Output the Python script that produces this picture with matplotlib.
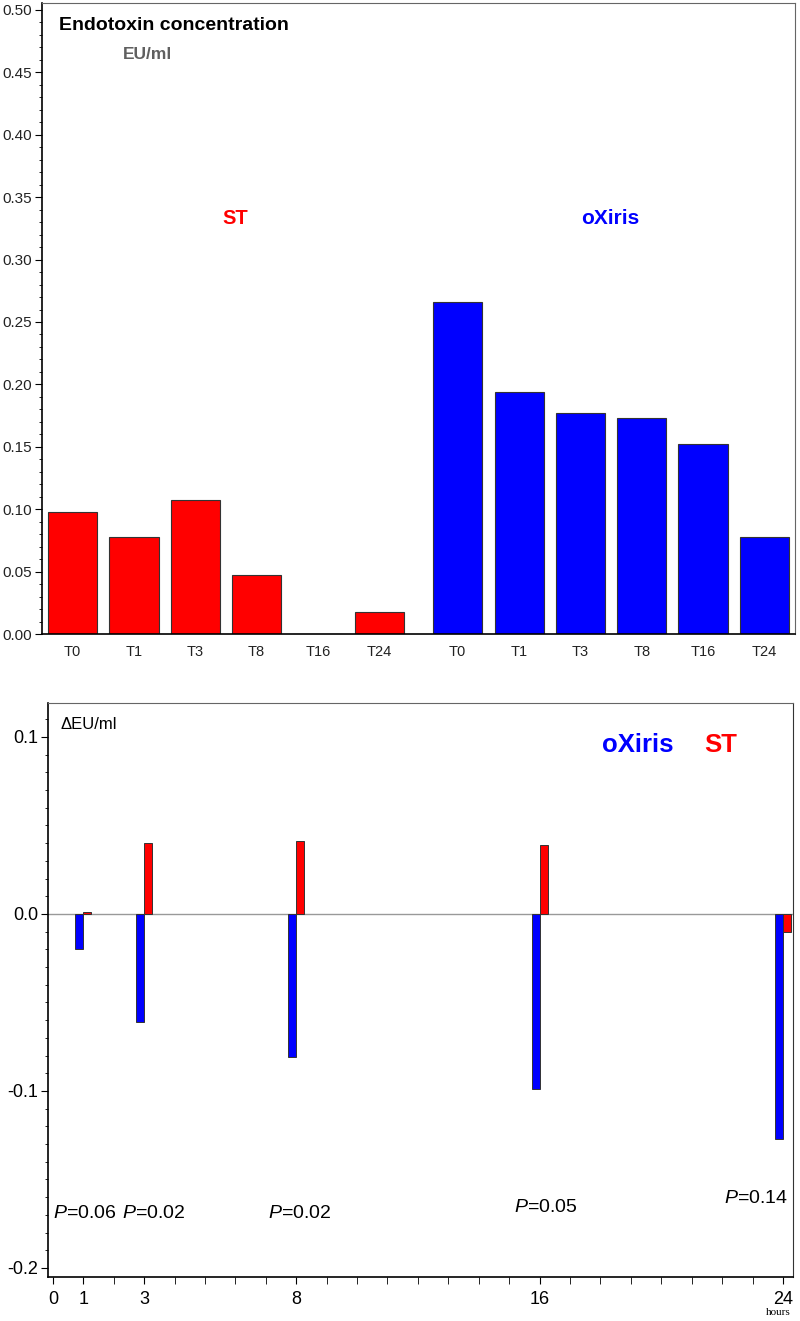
import numpy as np
import matplotlib
matplotlib.use("Agg")
import matplotlib.pyplot as plt
from matplotlib.ticker import MultipleLocator, FixedLocator

plt.rcParams['font.family'] = ['Liberation Sans', 'DejaVu Sans']
plt.rcParams['mathtext.fontset'] = 'custom'
plt.rcParams['mathtext.it'] = 'Liberation Sans:italic'
plt.rcParams['mathtext.rm'] = 'Liberation Sans'

# top panel: endotoxin concentration (EU/ml)
times = ["T0", "T1", "T3", "T8", "T16", "T24"]
st_conc = [0.098, 0.078, 0.107, 0.047, 0.0, 0.018]
oxiris_conc = [0.266, 0.194, 0.177, 0.173, 0.152, 0.078]

# bottom panel: change from baseline (delta EU/ml) per hour
hours = [1, 3, 8, 16, 24]
oxiris_delta = [-0.020, -0.061, -0.081, -0.099, -0.127]
st_delta = [0.001, 0.040, 0.041, 0.039, -0.010]
p_labels = ["0.06", "0.02", "0.02", "0.05", "0.14"]
p_xpos = [1.05, 3.3, 8.1, 16.2, 23.1]
p_ypos = [-0.169, -0.169, -0.169, -0.166, -0.161]
hour_ticks = [0, 1, 3, 8, 16, 24]

red = "#ff0000"
blue = "#0000ff"
edge = "#333333"

fig = plt.figure(figsize=(8, 13.21), dpi=100)

# ---- top chart
ax1 = fig.add_axes([42/800, 1-634/1321, 753/800, 631/1321])
gap = 0.28
x_st = np.arange(len(times))
x_ox = np.arange(len(times)) + len(times) + gap
ax1.bar(x_st, st_conc, width=0.8, color=red, edgecolor=edge, linewidth=0.8)
ax1.bar(x_ox, oxiris_conc, width=0.8, color=blue, edgecolor=edge, linewidth=0.8)
ax1.set_xlim(-0.5, x_ox[-1] + 0.5)
ax1.set_ylim(0, 0.5056)
ax1.set_xticks(np.concatenate([x_st, x_ox]))
ax1.set_xticklabels(times + times, fontsize=10.5, color="#222222")
ax1.tick_params(axis='x', length=0, pad=8)
ax1.yaxis.set_major_locator(MultipleLocator(0.05))
ax1.yaxis.set_minor_locator(MultipleLocator(0.01))
ax1.yaxis.set_major_formatter(matplotlib.ticker.FormatStrFormatter("%.2f"))
ax1.tick_params(axis='y', which='major', length=5, labelsize=11, labelcolor="#222222", pad=2)
ax1.tick_params(axis='y', which='minor', length=2.5)
for s in ['top', 'right']:
    ax1.spines[s].set_color('#666666')
ax1.spines['left'].set_linewidth(1.2)
ax1.spines['bottom'].set_linewidth(1.2)

ax1.text(0.0226, 0.965, "Endotoxin concentration", transform=ax1.transAxes,
         fontsize=14, fontweight='bold', va='center', ha='left')
ax1.text(0.1076, 0.919, "EU/ml", transform=ax1.transAxes,
         fontsize=12.5, fontweight='bold', color="#606060", va='center', ha='left')
ax1.text(0.256, 0.658, "ST", transform=ax1.transAxes,
         fontsize=14.5, fontweight='bold', color=red, va='center', ha='center')
ax1.text(0.754, 0.658, "oXiris", transform=ax1.transAxes,
         fontsize=15, fontweight='bold', color=blue, va='center', ha='center')

# ---- bottom chart
ax2 = fig.add_axes([48/800, 1-1277/1321, 745/800, 574/1321])
bw = 0.26
ax2.bar(hours, oxiris_delta, width=-bw, align='edge', color=blue, edgecolor=edge, linewidth=0.7)
ax2.bar(hours, st_delta, width=bw, align='edge', color=red, edgecolor=edge, linewidth=0.7)
ax2.axhline(0, color="#999999", linewidth=1, zorder=0)
ax2.set_xlim(-0.16, 24.33)
ax2.set_ylim(-0.2051, 0.1192)
ax2.xaxis.set_major_locator(FixedLocator(hour_ticks))
ax2.xaxis.set_minor_locator(MultipleLocator(1))
ax2.tick_params(axis='x', which='both', length=5, labelsize=13, pad=5)
ax2.yaxis.set_major_locator(MultipleLocator(0.1))
ax2.yaxis.set_minor_locator(MultipleLocator(0.01))
ax2.yaxis.set_major_formatter(matplotlib.ticker.FormatStrFormatter("%.1f"))
ax2.tick_params(axis='y', which='major', length=5, labelsize=13, pad=2)
ax2.tick_params(axis='y', which='minor', length=2.5)
ax2.spines['top'].set_color('#666666')
ax2.spines['right'].set_color('#333333')
ax2.spines['left'].set_linewidth(1.2)
ax2.spines['bottom'].set_linewidth(1.2)

ax2.text(0.0174, 0.963, "ΔEU/ml", transform=ax2.transAxes,
         fontsize=12, va='center', ha='left')
ax2.text(0.791, 0.927, "oXiris", transform=ax2.transAxes,
         fontsize=18.5, fontweight='bold', color=blue, va='center', ha='center')
ax2.text(0.903, 0.927, "ST", transform=ax2.transAxes,
         fontsize=18.5, fontweight='bold', color=red, va='center', ha='center')
for px, py, lab in zip(p_xpos, p_ypos, p_labels):
    ax2.text(px, py, r"$P$=" + lab, fontsize=14, va='center', ha='center')
ax2.text(0.98, -0.061, "hours", transform=ax2.transAxes,
         fontsize=8, family='Liberation Serif', va='center', ha='center')

fig.savefig("out.png", dpi=100)
